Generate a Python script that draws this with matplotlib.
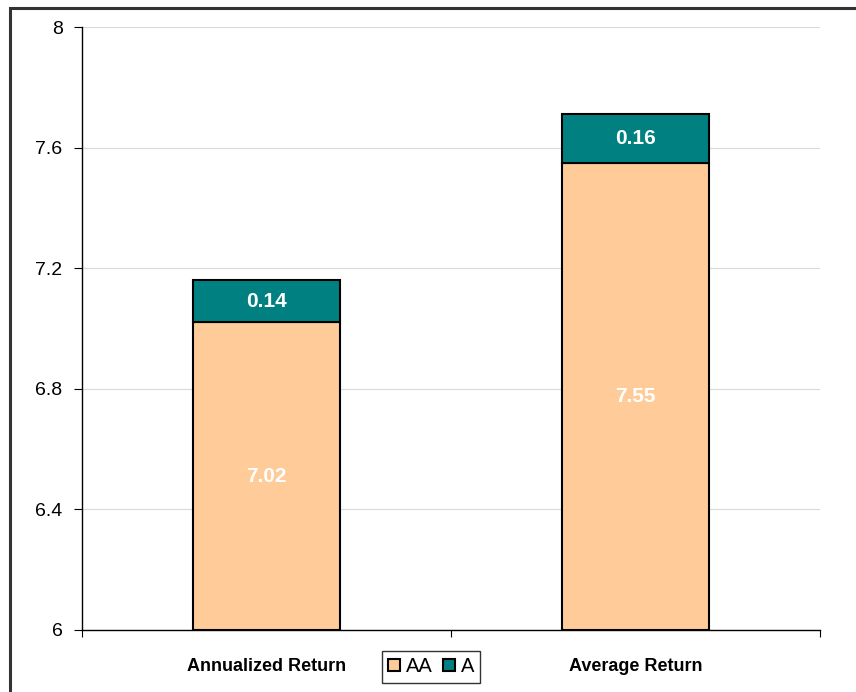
import matplotlib
matplotlib.use("Agg")
import matplotlib.pyplot as plt
from matplotlib.patches import Rectangle
from matplotlib.lines import Line2D

categories = ["Annualized Return", "Average Return"]
aa_values = [7.02, 7.55]
a_values = [0.14, 0.16]
y_ticks = [6, 6.4, 6.8, 7.2, 7.6, 8]
y_tick_labels = ["6", "6.4", "6.8", "7.2", "7.6", "8"]

base = 6.0
aa_color = "#FFCC99"
a_color = "#008080"

plt.rcParams["font.family"] = ["Liberation Sans", "DejaVu Sans"]

fig = plt.figure(figsize=(8.56, 6.92), dpi=100)
ax = fig.add_axes([82 / 856, 1 - 630 / 692, 738 / 856, 603 / 692])

# outer chart frame
fig.patches.append(Rectangle((10 / 856, -0.05), 1.1, 1 - 8 / 692 + 0.05,
                             transform=fig.transFigure, fill=False,
                             edgecolor="#333333", linewidth=2.2, zorder=0))

x = list(range(len(categories)))
width = 0.4
ax.bar(x, [v - base for v in aa_values], bottom=base, width=width,
       color=aa_color, edgecolor="black", linewidth=1.5, zorder=3)
ax.bar(x, a_values, bottom=aa_values, width=width,
       color=a_color, edgecolor="black", linewidth=1.5, zorder=3)

for xi, aa, a in zip(x, aa_values, a_values):
    ax.text(xi, (base + aa) / 2, f"{aa:.2f}", ha="center", va="center",
            color="white", fontsize=15, fontweight="bold", zorder=4)
    ax.text(xi, aa + a / 2, f"{a:.2f}", ha="center", va="center",
            color="white", fontsize=15, fontweight="bold", zorder=4)

ax.set_xlim(-0.5, len(categories) - 0.5)
ax.set_ylim(6, 8)
ax.set_yticks(y_ticks)
ax.set_yticklabels(y_tick_labels, fontsize=14)
ax.yaxis.grid(True, color="#d9d9d9", linewidth=0.8, zorder=0)
ax.set_axisbelow(True)

# category boundary ticks on the x axis, labels centered under bars
ax.set_xticks([-0.5, 0.5, 1.5])
ax.set_xticklabels([])
ax.set_xticks(x, minor=True)
ax.set_xticklabels(categories, minor=True, fontsize=13, fontweight="bold")
ax.tick_params(axis="x", which="minor", length=0, pad=20)
ax.tick_params(axis="x", which="major", length=5, direction="out", width=0.8)
ax.tick_params(axis="y", length=6, direction="out", width=0.8, pad=8)

for s in ["top", "right"]:
    ax.spines[s].set_visible(False)
for s in ["left", "bottom"]:
    ax.spines[s].set_linewidth(1.0)
    ax.spines[s].set_color("black")

handles = [
    Line2D([], [], marker="s", linestyle="none", markersize=8,
           markerfacecolor=aa_color, markeredgecolor="black", markeredgewidth=1.5),
    Line2D([], [], marker="s", linestyle="none", markersize=8,
           markerfacecolor=a_color, markeredgecolor="black", markeredgewidth=1.5),
]
leg = fig.legend(handles, ["AA", "A"], loc="center", ncol=2,
                 bbox_to_anchor=(431 / 856, 1 - 667 / 692), frameon=True,
                 fancybox=False, edgecolor="black", fontsize=14.5,
                 handlelength=0.6, handletextpad=0.3, columnspacing=0.5,
                 borderpad=0.3)
leg.get_frame().set_linewidth(1.0)

fig.savefig("out.png", dpi=100)
